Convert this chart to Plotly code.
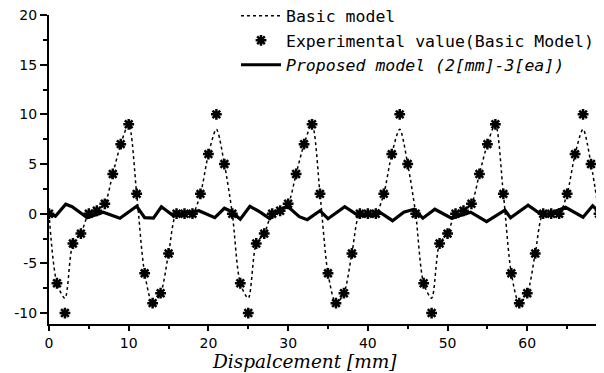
import plotly.graph_objects as go

# x positions (mm) of the experimental / basic model samples
x_disp = list(range(0, 70))

experimental = [0, -7, -10, -3, -2, 0, 0.3, 1, 4, 7,
                9, 2, -6, -9, -8, -4, 0, 0, 0, 2,
                6, 10, 5, 0, -7, -10, -3, -2, 0, 0.3,
                1, 4, 7, 9, 2, -6, -9, -8, -4, 0,
                0, 0, 2, 6, 10, 5, 0, -7, -10, -3,
                -2, 0, 0.3, 1, 4, 7, 9, 2, -6, -9,
                -8, -4, 0, 0, 0, 2, 6, 10, 5, 0]

basic_model = [0, -7, -8.5, -3, -2, 0, 0.3, 1, 4, 7,
               9, 2, -6, -9, -8, -4, 0, 0, 0, 2,
               6, 8.5, 5, 0, -7, -8.5, -3, -2, 0, 0.3,
               1, 4, 7, 9, 2, -6, -9, -8, -4, 0,
               0, 0, 2, 6, 8.5, 5, 0, -7, -8.5, -3,
               -2, 0, 0.3, 1, 4, 7, 9, 2, -6, -9,
               -8, -4, 0, 0, 0, 2, 6, 8.5, 5, 0]

proposed_x = [0, 0.8, 2.1, 2.9, 4.8, 6.8, 8.9, 11.0, 12.0, 13.1,
              14.1, 15.6, 17.5, 18.8, 20.8, 22.0, 22.8, 24.0, 25.2, 26.4,
              27.7, 29.0, 30.0, 31.4, 32.4, 34.0, 35.0, 37.1, 38.8, 40.3,
              41.5, 43.1, 44.5, 45.8, 46.9, 48.4, 50.5, 52.9, 54.9, 57.2,
              57.9, 60.1, 61.9, 62.8, 64.8, 66.2, 67.0, 68.2, 69.0]
proposed_y = [0.05, -0.25, 0.95, 0.7, -0.4, 0.15, -0.45, 0.75, -0.4, -0.45,
              0.7, -0.2, 0.1, 0.3, -0.4, 0.55, 0.25, -0.55, 0.75, 0.2,
              -0.5, 0.45, 0.7, -0.3, -0.6, 0.3, -0.5, 0.7, -0.2, -0.1,
              0.15, -0.7, 0.15, 0.45, -0.45, 0.45, -0.45, 0.15, -0.8, 0.35,
              -0.4, 0.85, -0.15, 0.0, 0.65, 0.0, -0.35, 0.8, 0.2]

x_ticks = [0, 10, 20, 30, 40, 50, 60]
y_ticks = [-10, -5, 0, 5, 10, 15, 20]
y_tick_text = ["-10", "-5", "0", "5", "10", "15", "20"]

fig = go.Figure()
fig.add_trace(go.Scatter(
    x=x_disp, y=basic_model, mode="lines", name="Basic model",
    line=dict(color="black", width=1.5, dash="dot", shape="spline", smoothing=0.8),
))
fig.add_trace(go.Scatter(
    x=x_disp, y=experimental, mode="markers", name="Experimental value(Basic Model)",
    marker=dict(symbol="asterisk-open", size=9, color="black",
                line=dict(color="black", width=2.5)),
))
fig.add_trace(go.Scatter(
    x=proposed_x, y=proposed_y, mode="lines",
    name="<i>Proposed model (2[mm]-3[ea])</i>",
    line=dict(color="black", width=3.2),
))

# page has an 8px body margin: figure is sized/offset to compensate
fig.update_layout(
    width=596, height=365,
    margin=dict(l=41, r=5, t=7, b=49, autoexpand=False),
    paper_bgcolor="white", plot_bgcolor="white",
    font=dict(family="DejaVu Sans", color="black", size=14),
    showlegend=True,
    legend=dict(x=1.0, xanchor="right", y=1.053, yanchor="top",
                bgcolor="rgba(0,0,0,0)",
                font=dict(family="DejaVu Sans Mono", size=16.5, color="black"),
                tracegroupgap=0, itemwidth=40),
    xaxis=dict(range=[0, 69], tickvals=x_ticks, showgrid=False, zeroline=False,
               showline=True, linecolor="black", linewidth=2, mirror=False,
               ticks="outside", ticklen=5, tickwidth=1.5, tickcolor="black",
               minor=dict(dtick=5, ticks="outside", ticklen=3, tickcolor="black"),
               tickfont=dict(family="DejaVu Sans", size=14)),
    yaxis=dict(range=[-11.1, 20], tickvals=y_ticks, ticktext=y_tick_text,
               showgrid=False, zeroline=False, ticklabeloverflow="allow",
               showline=True, linecolor="black", linewidth=2, mirror=True,
               ticks="outside", ticklen=7, tickwidth=1.5, tickcolor="black",
               minor=dict(dtick=2.5, ticks="outside", ticklen=4, tickcolor="black"),
               tickfont=dict(family="DejaVu Sans", size=14)),
    annotations=[dict(text="Dispalcement [mm]", xref="paper", yref="paper",
                      x=0.464, y=0, yshift=-37, xanchor="center", yanchor="middle",
                      showarrow=False,
                      font=dict(family="DejaVu Serif", size=18.5, style="italic", color="black"))],
)

fig.write_html("out.html")
